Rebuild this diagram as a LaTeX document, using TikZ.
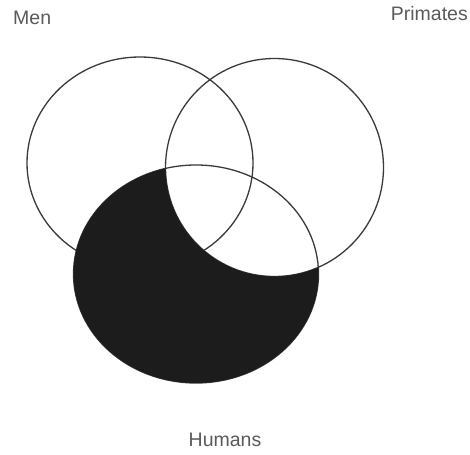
\documentclass[tikz,border=0pt]{standalone}
\usepackage{fontspec}
\setmainfont{Liberation Sans}
\definecolor{rimgray}{HTML}{3A3A3A}
\definecolor{labelgray}{HTML}{5A5A5A}
\definecolor{shadeblack}{HTML}{1C1C1C}

\tikzset{
  setline/.style={color=rimgray,line width=1.3pt},
  setlabel/.style={color=labelgray,inner sep=0pt,font=\fontsize{19.5}{22}\selectfont}
}

\begin{document}
\begin{tikzpicture}[x=1pt,y=-1pt]

   \useasboundingbox[fill=white] (0,0) rectangle (470,454);

   % centres of the three sets
   \coordinate (men) at (140,163);
   \coordinate (primates) at (274.5,167.5);
   \coordinate (humans) at (196,274);

   \draw[setline] (men) ellipse (113 and 106);
   \draw[setline] (primates) circle (109);
   \draw[setline] (humans) ellipse (122.5 and 109);

   % humans outside primates
   \begin{scope}
     \clip (humans) ellipse (122.5 and 109);
     \fill[shadeblack,even odd rule] (0,0) rectangle (470,454) (primates) circle (109);
   \end{scope}

   \node[setlabel,anchor=west] (menlabel) at (13,17.5) {Men};
   \node[setlabel,anchor=east] (primateslabel) at (468,14) {Primates};
   \node[setlabel] (humanslabel) at (225,439.5) {Humans};

\end{tikzpicture}
\end{document}
